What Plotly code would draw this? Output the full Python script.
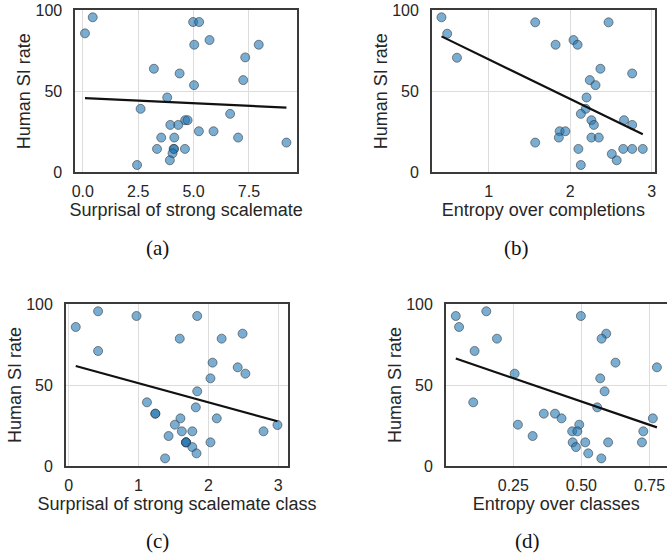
import numpy as np
import plotly.graph_objects as go

# ---------------- data ----------------
si_a = [85.6, 95.5, 92.6, 92.6, 78.6, 81.5, 78.6, 70.8, 63.8, 60.9, 56.8, 53.7, 46.1, 39.1, 36.0,
        32.1, 32.1, 29.2, 29.2, 25.3, 25.3, 21.4, 21.4, 21.4, 18.3, 14.4, 14.4, 14.4, 14.4, 11.7, 7.4, 4.5]
surprisal = [0.10, 0.45, 4.98, 5.25, 5.03, 5.72, 7.94, 7.33, 3.21, 4.37, 7.24, 5.02, 3.81, 2.61, 6.65,
             4.62, 4.73, 3.95, 4.31, 5.24, 5.90, 3.54, 4.13, 7.01, 9.19, 3.35, 4.10, 4.12, 4.61, 4.05, 3.93, 2.45]

si_b = [95.5, 85.4, 70.6, 92.4, 92.4, 78.6, 81.5, 78.6, 63.8, 60.9, 56.8, 53.7, 46.1, 39.1, 36.0,
        32.1, 32.1, 29.2, 29.2, 25.3, 25.3, 21.4, 21.4, 21.4, 18.3, 14.4, 14.4, 14.4, 14.4, 11.3, 7.4, 4.5]
entropy_compl = [0.42, 0.49, 0.61, 1.57, 2.47, 1.82, 2.04, 2.09, 2.37, 2.76, 2.24, 2.31, 2.20, 2.19, 2.13,
                 2.26, 2.66, 2.29, 2.76, 1.87, 1.94, 1.86, 2.26, 2.35, 1.57, 2.10, 2.65, 2.76, 2.89, 2.51, 2.57, 2.13]

si_c = [95.5, 85.8, 92.6, 92.6, 81.7, 78.6, 78.6, 71.0, 63.8, 60.9, 57.0, 54.1, 46.1, 39.3, 36.2,
        32.3, 32.3, 29.4, 29.4, 25.5, 25.3, 21.4, 21.4, 21.4, 18.5, 14.6, 14.6, 14.6, 14.6, 11.7, 7.8, 4.7]
surprisal_class = [0.42, 0.10, 0.97, 1.84, 2.49, 1.59, 2.19, 0.42, 2.06, 2.42, 2.53, 2.03, 1.84, 1.12, 1.82,
                   1.24, 1.24, 1.60, 2.12, 1.52, 2.99, 1.62, 1.77, 2.79, 1.43, 1.68, 1.68, 1.68, 2.03, 1.77, 1.83, 1.38]

si_d = [92.6, 95.5, 85.8, 78.6, 71.0, 92.6, 81.7, 78.6, 63.8, 60.9, 57.0, 54.1, 46.1, 39.3, 36.2,
        32.3, 32.3, 29.4, 29.4, 25.5, 25.5, 21.4, 21.4, 21.4, 18.5, 14.6, 14.6, 14.6, 14.6, 11.7, 7.8, 4.7]
entropy_class = [0.039, 0.151, 0.051, 0.190, 0.108, 0.498, 0.591, 0.574, 0.625, 0.777, 0.255, 0.569, 0.585,
                 0.103, 0.558, 0.362, 0.403, 0.427, 0.762, 0.267, 0.492, 0.466, 0.485, 0.727, 0.321, 0.468,
                 0.514, 0.598, 0.722, 0.480, 0.525, 0.573]

x_titles = ["Surprisal of strong scalemate", "Entropy over completions",
            "Surprisal of strong scalemate class", "Entropy over classes"]
y_title = "Human SI rate"
captions = ["(a)", "(b)", "(c)", "(d)"]

y_ticks = [0, 50, 100]
x_ticks = [[0, 2.5, 5, 7.5], [1, 2, 3], [0, 1, 2, 3], [0.25, 0.5, 0.75]]
x_ticktext = [["0.0", "2.5", "5.0", "7.5"], ["1", "2", "3"], ["0", "1", "2", "3"], ["0.25", "0.50", "0.75"]]

# ---------------- layout geometry ----------------
W, H = 667, 554
panels = [
    dict(x=surprisal, y=si_a, frame=(75, 297.3, 10, 172.3), xr=[-0.35, 9.68], cap=(157, 248)),
    dict(x=entropy_compl, y=si_b, frame=(431.7, 655, 10, 172.3), xr=[0.30, 3.04], cap=(516, 248)),
    dict(x=surprisal_class, y=si_c, frame=(65.7, 288.3, 304, 466), xr=[-0.044, 3.145], cap=(157, 541)),
    dict(x=entropy_class, y=si_d, frame=(445.7, 667, 304, 466), xr=[0.002, 0.814], cap=(527, 541)),
]

TXT = "#262626"
fig = go.Figure()
layout = dict(width=W, height=H, margin=dict(l=0, r=0, t=0, b=0, autoexpand=False),
              paper_bgcolor="white", plot_bgcolor="white", showlegend=False,
              font=dict(family="Liberation Sans, Arial, sans-serif", color=TXT))
annotations = []

for i, p in enumerate(panels):
    k = "" if i == 0 else str(i + 1)
    xa, ya = "x" + k, "y" + k
    x = np.array(p["x"], dtype=float)
    y = np.array(p["y"], dtype=float)
    fig.add_trace(go.Scatter(
        x=x, y=y, mode="markers", xaxis=xa, yaxis=ya, cliponaxis=False, hoverinfo="skip",
        marker=dict(size=9, color="rgba(31,119,180,0.6)",
                    line=dict(width=0.9, color="rgba(45,45,45,0.6)"))))
    slope, icpt = np.polyfit(x, y, 1)
    xs = np.array([x.min(), x.max()])
    fig.add_trace(go.Scatter(x=xs, y=slope * xs + icpt, mode="lines", xaxis=xa, yaxis=ya,
                             hoverinfo="skip", line=dict(color="#111111", width=2.2)))
    l, r, t, b = p["frame"]
    common = dict(showline=True, mirror=True, linecolor="#3a3a3a", linewidth=1.6, automargin=False,
                  showgrid=True, gridcolor="#dcdcdc", gridwidth=1, zeroline=False, ticks="",
                  tickfont=dict(size=16, color=TXT))
    layout["xaxis" + k] = dict(common, domain=[l / W, r / W], anchor=ya, range=p["xr"],
                               tickvals=x_ticks[i], ticktext=x_ticktext[i], ticklabelstandoff=4,
                               title=dict(text=x_titles[i], font=dict(size=18, color=TXT), standoff=4))
    layout["yaxis" + k] = dict(common, domain=[1 - b / H, 1 - t / H], anchor=xa, range=[0, 100],
                               tickvals=y_ticks, ticklabelstandoff=8,
                               title=dict(text=y_title, font=dict(size=18, color=TXT), standoff=0))
    cx, cy = p["cap"]
    annotations.append(dict(text=captions[i], x=cx / W, y=1 - cy / H, xref="paper", yref="paper",
                            showarrow=False, xanchor="center", yanchor="middle",
                            font=dict(family="Liberation Serif, Times New Roman, serif", size=21, color="#111111")))

layout["annotations"] = annotations
fig.update_layout(**layout)
fig.write_html("out.html", config={"displayModeBar": False, "staticPlot": True},
               post_script="document.body.style.margin='0px';")
